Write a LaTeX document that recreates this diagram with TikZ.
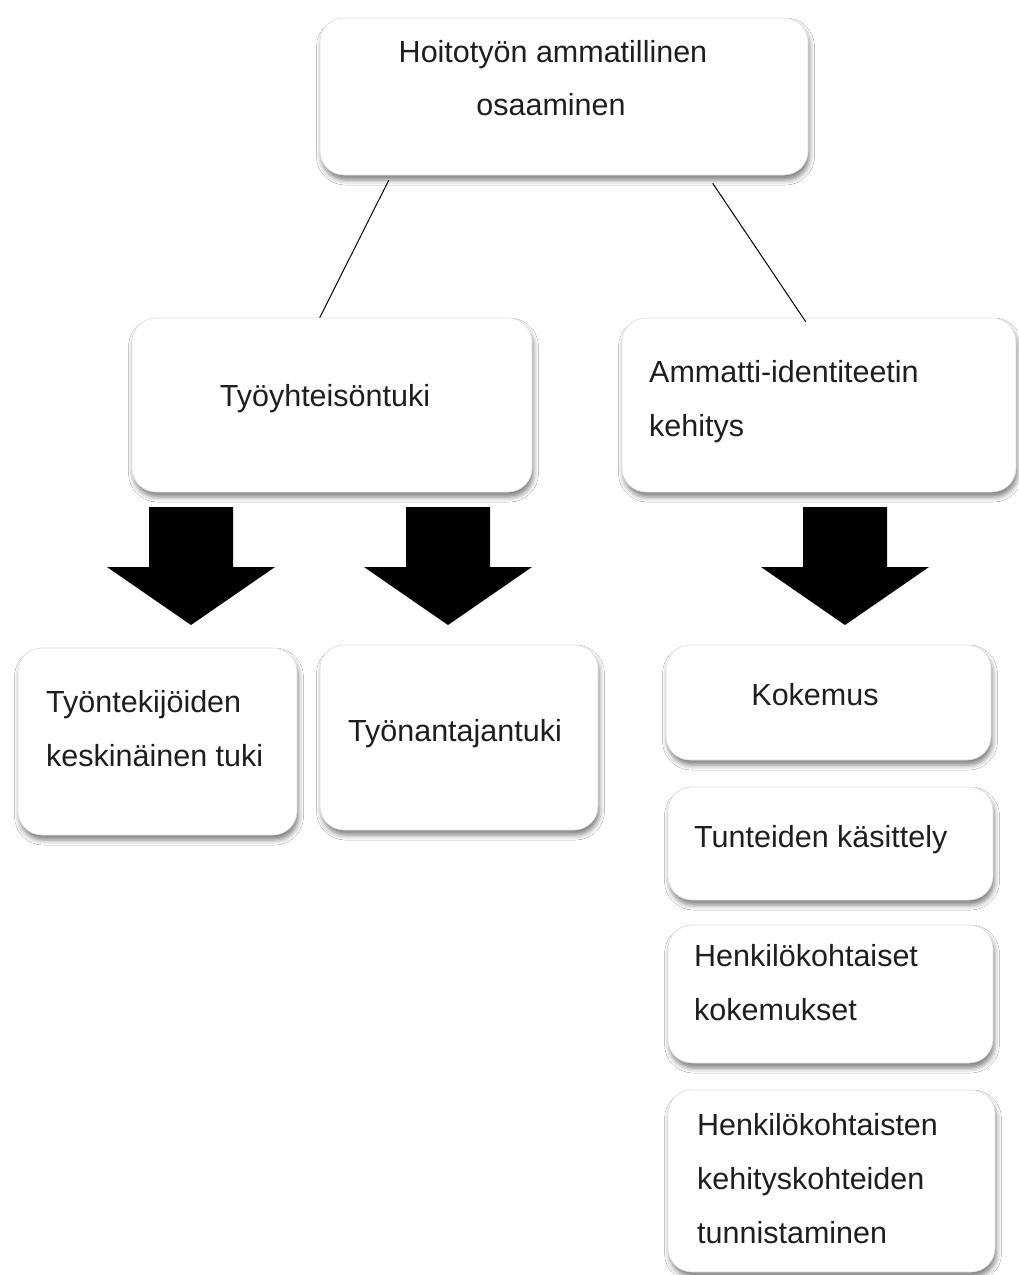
\documentclass[tikz,border=0pt]{standalone}
\usepackage{fontspec}
\setmainfont{Liberation Sans}
\usetikzlibrary{shadows.blur}
\definecolor{txt}{HTML}{1E1E1E}
\tikzset{
  box/.style={draw=black!12, line width=0.6pt, fill=white, rounded corners=24pt, inner sep=0pt,
    blur shadow={shadow xshift=1.5pt, shadow yshift=-5pt, shadow blur radius=5pt, shadow opacity=50}},
  lbl/.style={inner sep=0pt, text=txt, font=\fontsize{30.5}{54}\selectfont, align=left, anchor=base west},
  lblc/.style={inner sep=0pt, text=txt, font=\fontsize{30.5}{54}\selectfont, align=center, anchor=base},
  bigarrow/.style={fill=black, draw=none},
  link/.style={draw=black, line width=1pt}
}
\begin{document}
\begin{tikzpicture}[x=1pt,y=-1pt]
\useasboundingbox (0,0) rectangle (1018,1275);
\fill[white] (0,0) rectangle (1018,1275);
% boxes
\node[box, minimum width=488pt, minimum height=157pt] (top) at (564,96.5) {};
\node[box, minimum width=400pt, minimum height=174pt] (tyo) at (332,405) {};
\node[box, minimum width=394pt, minimum height=174pt] (amm) at (819,405) {};
\node[box, minimum width=279pt, minimum height=187pt] (tk) at (157.5,741.5) {};
\node[box, minimum width=278pt, minimum height=185pt] (ta) at (459,737.5) {};
\node[box, minimum width=325pt, minimum height=115pt] (ko) at (828.5,702.5) {};
\node[box, minimum width=325pt, minimum height=113pt] (tu) at (830.5,843.5) {};
\node[box, minimum width=325pt, minimum height=138pt] (hk) at (830.5,994) {};
\node[box, minimum width=327pt, minimum height=182pt] (hkt) at (831.5,1181) {};
% texts (multi-line nodes are anchored at the baseline of their last line)
\node[lblc] (t1) at (553,62) {Hoitotyön ammatillinen};
\node[lblc] (t1b) at (551,115) {osaaminen};
\node[lblc] (t2) at (325,406) {Työyhteisöntuki};
\node[lbl] (t3) at (649,436) {Ammatti-identiteetin\\kehitys};
\node[lbl] (t4) at (46,766) {Työntekijöiden\\keskinäinen tuki};
\node[lbl] (t5) at (348,741) {Työnantajantuki};
\node[lblc] (t6) at (815,705) {Kokemus};
\node[lbl] (t7) at (694,847) {Tunteiden käsittely};
\node[lbl] (t8) at (694,1020) {Henkilökohtaiset\\kokemukset};
\node[lbl] (t9) at (697,1243) {Henkilökohtaisten\\kehityskohteiden\\tunnistaminen};
% connectors
\draw[link] ([xshift=69pt,yshift=-5pt]top.south west) -- ([xshift=188pt]tyo.north west);
\draw[link] ([xshift=393pt,yshift=-8pt]top.south west) -- ([xshift=184pt,yshift=-4pt]amm.north west);
% block arrows
\foreach \cx in {191,448,845}{
  \fill[bigarrow] (\cx-42,507) -- (\cx+42,507) -- (\cx+42,567) -- (\cx+84,567)
     -- (\cx,625) -- (\cx-84,567) -- (\cx-42,567) -- cycle;
}
\end{tikzpicture}
\end{document}
